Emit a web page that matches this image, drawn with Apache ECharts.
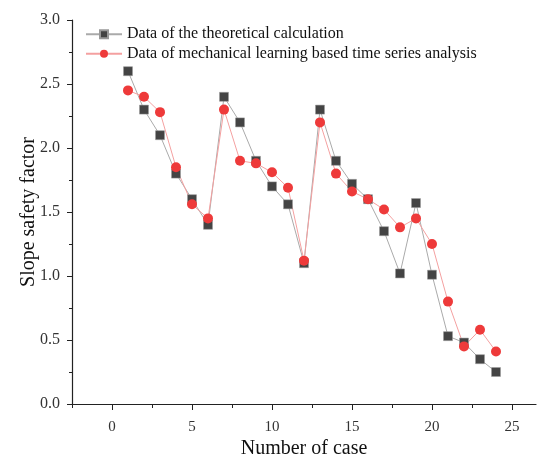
<!doctype html>
<html>
<head>
    <title>Slope safety factor</title>
    <script src="https://cdn.jsdelivr.net/npm/echarts@6/dist/echarts.min.js"></script>
</head>
<body style="margin:0;">
<div id="chart" style="width: 541px; height: 456px;"></div>
<script>
var cases = [1,2,3,4,5,6,7,8,9,10,11,12,13,14,15,16,17,18,19,20,21,22,23,24]
var theoretical = [2.6,2.3,2.1,1.8,1.6,1.4,2.4,2.2,1.9,1.7,1.56,1.1,2.3,1.9,1.72,1.6,1.35,1.02,1.57,1.01,0.53,0.48,0.35,0.25]
var learned = [2.45,2.4,2.28,1.85,1.56,1.45,2.3,1.9,1.88,1.81,1.69,1.12,2.2,1.8,1.66,1.6,1.52,1.38,1.45,1.25,0.8,0.45,0.58,0.41]
var xMajor = [0,5,10,15,20,25]
var xMinor = [-2.5,2.5,7.5,12.5,17.5,22.5]

var font = '"Liberation Serif", "Times New Roman", serif'

function pairs(ys) {
    return cases.map(function (c, i) { return [c, ys[i]] })
}

var option = {
    animation: false,
    legend: {
        orient: 'vertical',
        left: 80,
        top: 17,
        padding: 5,
        itemWidth: 36,
        itemHeight: 10,
        itemGap: -5,
        textStyle: { fontFamily: font, fontSize: 16, lineHeight: 15, color: '#111' },
        data: ['Data of the theoretical calculation', 'Data of mechanical learning based time series analysis']
    },
    grid: { left: 72, right: 5, top: 20, bottom: 52, containLabel: false, outerBoundsMode: 'none' },
    xAxis: [
        {
            type: 'value',
            min: -2.5,
            max: 26.5,
            interval: 2.5,
            name: 'Number of case',
            nameLocation: 'middle',
            nameGap: 29,
            nameMoveOverlap: false,
            nameTextStyle: { fontFamily: font, fontSize: 20, color: '#111' },
            splitLine: { show: false },
            axisLine: { onZero: false, lineStyle: { color: '#222', width: 1.2 } },
            axisTick: { show: true, length: 6, customValues: xMajor, lineStyle: { color: '#222' } },
            axisLabel: {
                customValues: xMajor,
                margin: 12,
                fontFamily: font, fontSize: 15, color: '#333'
            }
        },
        {
            type: 'value',
            min: -2.5,
            max: 26.5,
            position: 'bottom',
            splitLine: { show: false },
            axisLine: { show: false, onZero: false },
            axisTick: { show: true, length: 4, customValues: xMinor, lineStyle: { color: '#222' } },
            axisLabel: { show: false }
        }
    ],
    yAxis: {
        type: 'value',
        min: 0,
        max: 3,
        interval: 0.5,
        name: 'Slope safety factor',
        nameLocation: 'middle',
        nameGap: 28,
        nameMoveOverlap: false,
        nameTextStyle: { fontFamily: font, fontSize: 20, color: '#111' },
        splitLine: { show: false },
        axisLine: { show: true, onZero: false, lineStyle: { color: '#222', width: 1.2 } },
        axisTick: { show: true, length: 5, lineStyle: { color: '#222' } },
        minorTick: { show: true, splitNumber: 2, length: 3, lineStyle: { color: '#222' } },
        axisLabel: {
            margin: 12,
            fontFamily: font, fontSize: 16, color: '#333',
            formatter: function (v) { return v.toFixed(1) }
        }
    },
    series: [
        {
            name: 'Data of the theoretical calculation',
            type: 'line',
            data: pairs(theoretical),
            symbol: 'rect',
            symbolSize: 9,
            itemStyle: { color: '#444', borderColor: '#999', borderWidth: 0.5 },
            lineStyle: { color: '#aaa', width: 1 }
        },
        {
            name: 'Data of mechanical learning based time series analysis',
            type: 'line',
            data: pairs(learned),
            symbol: 'circle',
            symbolSize: 10,
            itemStyle: { color: '#ee3a3a' },
            lineStyle: { color: '#f4a0a0', width: 1 }
        }
    ]
};

window.onload = function () {
    var myChart = echarts.init(document.getElementById('chart'));
    myChart.setOption(option);
}
</script>
</body>
</html>
